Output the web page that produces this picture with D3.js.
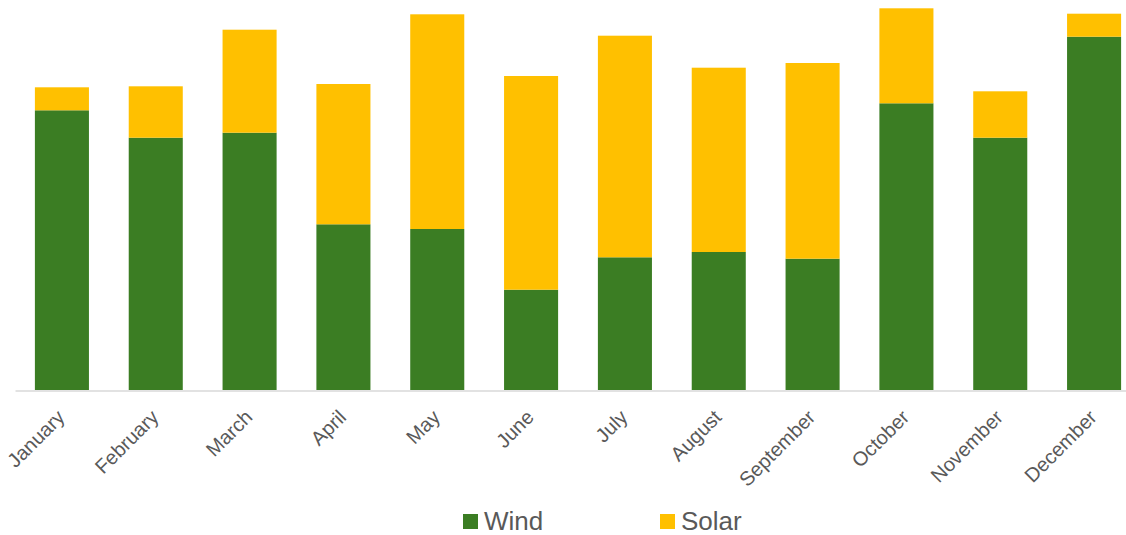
<!DOCTYPE html>
<html>
<head>
<meta charset="utf-8">
<script src="https://cdn.jsdelivr.net/npm/d3@7"></script>
<style>
  html, body { margin: 0; padding: 0; background: #fff; }
  svg { display: block; font-family: "Liberation Sans", Arial, sans-serif; }
</style>
</head>
<body>
<svg id="chart" width="1126" height="535"></svg>
<script>
// ---- data (arbitrary energy units) ----
const months = ["January","February","March","April","May","June","July","August","September","October","November","December"];
const wind  = [279.7, 252.3, 257.3, 165.7, 161.0, 100.3, 132.7, 138.0, 131.3, 286.7, 252.3, 353.3];
const solar = [ 23.0,  51.4, 103.0, 140.3, 214.7, 213.7, 221.6, 184.3, 195.7,  95.0,  46.4,  23.0];
const seriesNames = ["Wind", "Solar"];
const seriesColors = ["#3b7d23", "#ffc000"];

// ---- layout ----
const svg = d3.select("#chart");
const baseY = 390;
const x = d3.scaleBand().domain(months).range([15, 1141]).paddingInner(0.424).paddingOuter(0.212);
const y = d3.scaleLinear().domain([0, 390]).range([baseY, 0]);

const rows = months.map((m, i) => ({ month: m, Wind: wind[i], Solar: solar[i] }));
const stacked = d3.stack().keys(seriesNames)(rows);

svg.append("g").selectAll("g")
  .data(stacked)
  .join("g")
  .attr("fill", (d, i) => seriesColors[i])
  .selectAll("rect")
  .data(d => d)
  .join("rect")
  .attr("x", d => x(d.data.month))
  .attr("width", x.bandwidth())
  .attr("y", d => y(d[1]))
  .attr("height", d => y(d[0]) - y(d[1]));

// baseline axis
const xAxis = d3.axisBottom(x).tickSize(0).tickPadding(0);
const gx = svg.append("g").attr("transform", `translate(0,${baseY + 0.5})`).call(xAxis);
gx.select(".domain").attr("stroke", "#d9d9d9").attr("stroke-width", 1.5);
gx.selectAll(".tick text")
  .attr("fill", "#595959")
  .attr("font-size", 20)
  .attr("text-anchor", "end")
  .attr("dy", 0)
  .attr("transform", "translate(4,28) rotate(-45)");

// legend
const legend = svg.append("g").attr("font-size", 26).attr("fill", "#595959");
const legendX = [463, 660];
seriesNames.forEach((name, i) => {
  const g = legend.append("g").attr("transform", `translate(${legendX[i]},514)`);
  g.append("rect").attr("width", 15).attr("height", 15).attr("fill", seriesColors[i]);
  g.append("text").attr("x", 21).attr("y", 15.5).text(name);
});
</script>
</body>
</html>
